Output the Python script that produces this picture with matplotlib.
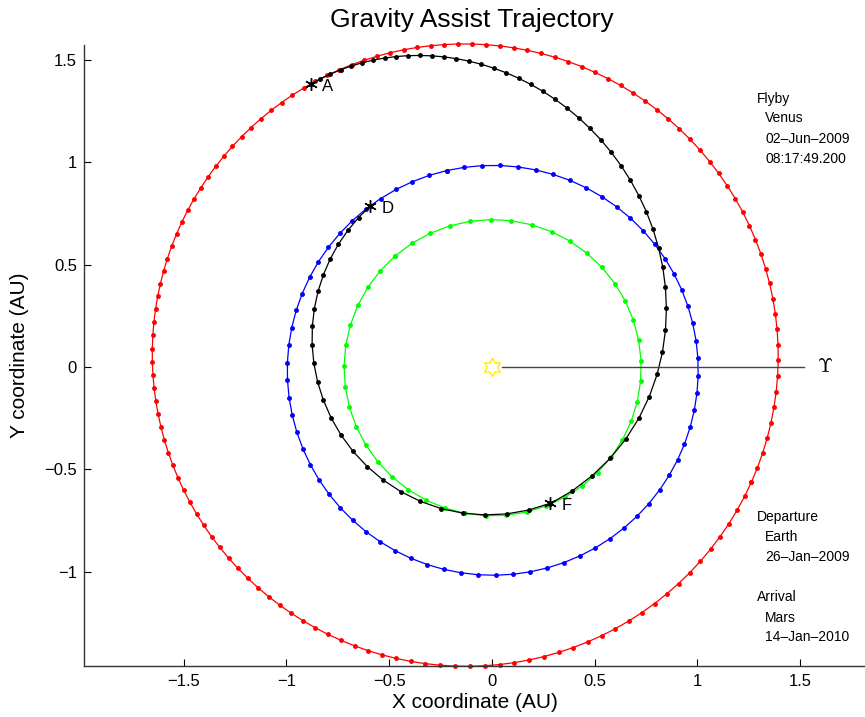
import numpy as np
import matplotlib.pyplot as plt
from matplotlib.path import Path

plt.rcParams['font.family'] = ['Liberation Sans', 'DejaVu Sans']

# planet orbits: semi-major axis (AU), eccentricity, longitude of perihelion (deg)
planet_names = ["Venus", "Earth", "Mars"]
planet_a = [0.723, 1.000, 1.524]
planet_e = [0.0068, 0.0167, 0.0934]
planet_peri = [131.0, 103.0, 336.0]
planet_colors = ["#00ff00", "blue", "red"]

# transfer legs: semi-latus rectum, eccentricity, perihelion longitude, start/end longitude (deg), days
leg_p = [0.839, 1.000]
leg_e = [0.165, 0.390]
leg_peri = [280.0, 306.0]
leg_start = [127.0, 293.0]
leg_end = [293.0, 482.6]
leg_days = [127, 226]

step_days = 5
point_labels = ["D", "F", "A"]
flyby_text = ["Flyby", "  Venus", "  02–Jun–2009", "  08:17:49.200"]
dep_text = ["Departure", "  Earth", "  26–Jan–2009"]
arr_text = ["Arrival", "  Mars", "  14–Jan–2010"]


def kepler_E(M, e):
    E = np.array(M, dtype=float)
    for _ in range(30):
        E = E - (E - e * np.sin(E) - M) / (1 - e * np.cos(E))
    return E


def nu_to_M(nu, e):
    E = 2 * np.arctan(np.sqrt((1 - e) / (1 + e)) * np.tan(nu / 2))
    return E - e * np.sin(E)


def orbit_points(a, e, peri, M):
    E = kepler_E(M, e)
    nu = 2 * np.arctan2(np.sqrt(1 + e) * np.sin(E / 2), np.sqrt(1 - e) * np.cos(E / 2))
    r = a * (1 - e * np.cos(E))
    th = nu + np.radians(peri)
    return r * np.cos(th), r * np.sin(th)


fig = plt.figure(figsize=(8.65, 7.17), dpi=100)
ax = fig.add_axes([84 / 865, 51 / 717, 781 / 865, 621 / 717])

for a, e, w, c in zip(planet_a, planet_e, planet_peri, planet_colors):
    T = 365.25 * a ** 1.5
    n = int(round(T / step_days))
    M = np.linspace(0, 2 * np.pi, n + 1)
    x, y = orbit_points(a, e, w, M)
    ax.plot(x, y, '.-', color=c, lw=0.9, ms=5, clip_on=False)

ends = []
for p, e, w, t0, t1, d in zip(leg_p, leg_e, leg_peri, leg_start, leg_end, leg_days):
    a = p / (1 - e ** 2)
    nu0 = np.radians(t0 - w)
    nu1 = np.radians(t1 - w)
    nu0 = (nu0 + np.pi) % (2 * np.pi) - np.pi
    nu1 = (nu1 + np.pi) % (2 * np.pi) - np.pi
    M0 = nu_to_M(nu0, e)
    M1 = nu_to_M(nu1, e)
    if M1 < M0:
        M1 += 2 * np.pi
    n = int(round(d / step_days))
    M = np.linspace(M0, M1, n + 1)
    x, y = orbit_points(a, e, w, M)
    ax.plot(x, y, '.-', color='black', lw=0.9, ms=5)
    if not ends:
        ends.append((x[0], y[0]))
    ends.append((x[-1], y[-1]))

for (x, y), lab in zip(ends, point_labels):
    ax.plot(x, y, marker=(6, 2, 0), color='black', ms=9, mew=1.0)
    ax.text(x + 0.055, y - 0.012, lab, fontsize=12, va='center', ha='left')

# sun (hexagram) and vernal equinox line
ang = np.radians(np.arange(12) * 30 + 90)
rad = np.where(np.arange(12) % 2 == 0, 1.0, 1 / np.sqrt(3))
verts = np.column_stack([rad * np.cos(ang), rad * np.sin(ang)])
verts = np.vstack([verts, verts[0]])
star = Path(verts, closed=True)
ax.plot([0.05, 1.52], [0, 0], color='#444444', lw=1.0)
ax.plot(0, 0, marker=star, ms=13, mfc='white', mec='#ffee00', mew=1.0)
ax.text(1.62, 0, r'$\Upsilon$', fontsize=14, va='center', ha='center', math_fontfamily='cm')

ax.set_xlim(-1.985, 1.815)
ax.set_ylim(-1.459, 1.571)
ax.set_xticks([-1.5, -1, -0.5, 0, 0.5, 1, 1.5])
ax.set_yticks([-1, -0.5, 0, 0.5, 1, 1.5])
ax.set_xticklabels(["\u22121.5", "\u22121", "\u22120.5", "0", "0.5", "1", "1.5"])
ax.set_yticklabels(["\u22121", "\u22120.5", "0", "0.5", "1", "1.5"])
ax.tick_params(direction='in', length=5, width=0.8, labelsize=12)
ax.tick_params(axis='x', pad=6)
ax.tick_params(axis='y', pad=5)
ax.spines['top'].set_visible(False)
ax.spines['right'].set_visible(False)
for s in ['left', 'bottom']:
    ax.spines[s].set_color('#333333')
    ax.spines[s].set_linewidth(1.0)
ax.set_xlabel("X coordinate (AU)", fontsize=15, labelpad=3)
ax.set_ylabel("Y coordinate (AU)", fontsize=15, labelpad=11)
fig.text(472 / 865, 1 - 20 / 717, "Gravity Assist Trajectory", fontsize=19,
         ha='center', va='center')

flyby_y = [99, 118, 139, 159]
dep_y = [517, 537, 557]
arr_y = [597, 618, 637]
for lines, ys in [(flyby_text, flyby_y), (dep_text, dep_y), (arr_text, arr_y)]:
    for t, py in zip(lines, ys):
        px = 757 if not t.startswith(" ") else 765
        fig.text(px / 865, 1 - py / 717, t.strip(), fontsize=10, ha='left', va='center')

fig.savefig("out.png", dpi=100)
